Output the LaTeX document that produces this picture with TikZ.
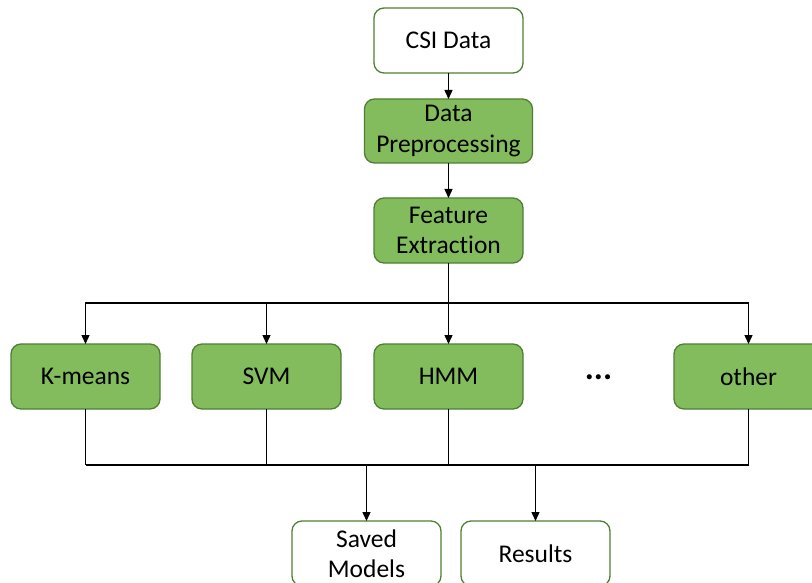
\documentclass[tikz,border=0pt]{standalone}
\usepackage{fontspec}
\setmainfont{Carlito}[Ligatures=NoCommon]
\usetikzlibrary{arrows.meta, positioning, calc}
\definecolor{boxgreen}{RGB}{130,188,92}
\definecolor{edgegreen}{RGB}{80,126,50}
\tikzset{
    box/.style={draw=edgegreen, line width=1.3pt, fill=boxgreen, rounded corners=10pt, align=center, text=black, minimum width=149pt, minimum height=65pt, inner sep=2pt, outer sep=0pt, font=\fontsize{25.5}{30.5}\selectfont},
    outbox/.style={box, fill=white},
    arrow/.style={-{Triangle[length=9pt,width=8pt]}, line width=1.4pt, black},
    line/.style={line width=1.4pt, black}
}
\begin{document}
\begin{tikzpicture}[node distance=26pt]
        \useasboundingbox (0,0) rectangle (812pt,-583pt);
        \clip (0,0) rectangle (812pt,-583pt);
        \node [outbox] (csi) at (448.5pt,-40.5pt) {CSI Data};
        \node [box, below=26pt of csi, minimum width=168pt, minimum height=64pt] (prep) {Data\\Preprocessing};
        \node [box, below=35pt of prep] (feat) {Feature\\Extraction};
        \node [box, below=81pt of feat] (hmm) {HMM};
        \node [box, left=33pt of hmm] (svm) {SVM};
        \node [box, left=32pt of svm] (kmeans) {K-means};
        \node [box, right=151pt of hmm] (other) {other};
        \node [font=\fontsize{34}{34}\selectfont\bfseries] (dots) at ($(hmm)!0.5!(other)+(0,-1pt)$) {...};
        \node [outbox, below=112pt of hmm, xshift=-82pt] (saved) {Saved\\Models};
        \node [outbox, right=20pt of saved] (results) {Results};
        \coordinate (split) at ($(feat.south)+(0,-40pt)$);
        \coordinate (join) at ($(hmm.south)+(0,-56pt)$);
        \draw [arrow] (csi) -- (prep);
        \draw [arrow] (prep) -- (feat);
        \foreach \n in {kmeans, svm, hmm, other}
            \draw [arrow] (feat.south) -- (split) -| (\n.north);
        \foreach \n in {kmeans, svm, hmm, other}
            \draw [line] (\n.south) -- (\n.south |- join);
        \draw [line] (kmeans.south |- join) -- (other.south |- join);
        \draw [arrow] (saved.north |- join) -- (saved);
        \draw [arrow] (results.north |- join) -- (results);
    \end{tikzpicture}
\end{document}
